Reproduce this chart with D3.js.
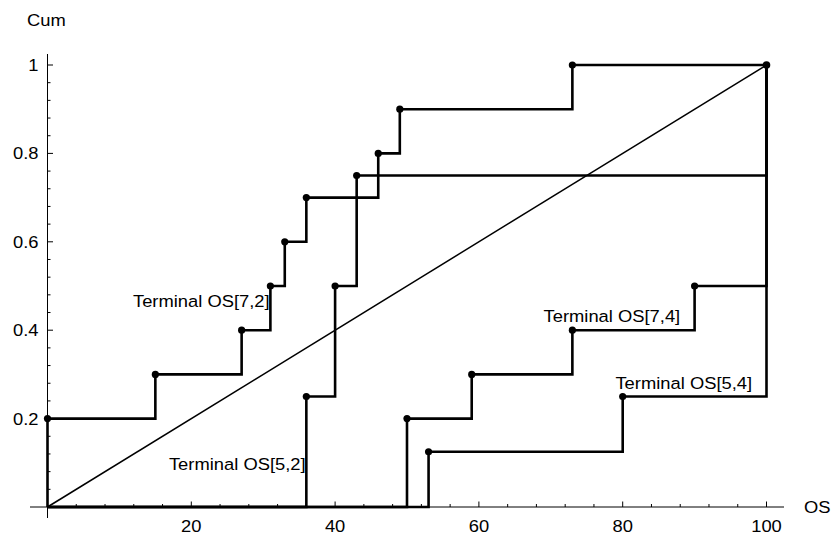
<!DOCTYPE html>
<html>
<head>
<meta charset="utf-8">
<script src="https://cdn.jsdelivr.net/npm/d3@7/dist/d3.min.js"></script>
<style>
  html, body { margin: 0; padding: 0; background: #fff; }
  svg { display: block; }
  text { font-family: "Liberation Sans", Arial, sans-serif; fill: #000; }
</style>
</head>
<body>
<svg id="chart" width="835" height="536"></svg>
<script>
// ---- Data ----
const os72X = [0, 15, 27, 31, 33, 36, 46, 49, 73];
const os72Y = [0.2, 0.3, 0.4, 0.5, 0.6, 0.7, 0.8, 0.9, 1.0];
const os52X = [36, 40, 43];
const os52Y = [0.25, 0.5, 0.75];
const os74X = [50, 59, 73, 90];
const os74Y = [0.2, 0.3, 0.4, 0.5];
const os54X = [53, 80];
const os54Y = [0.125, 0.25];
const diagonalX = [0, 100];
const diagonalY = [0, 1];
const xTickLabels = [20, 40, 60, 80, 100];
const yTickLabels = [0.2, 0.4, 0.6, 0.8, 1];
const seriesNames = ["Terminal OS[7,2]", "Terminal OS[5,2]", "Terminal OS[7,4]", "Terminal OS[5,4]"];
// label anchor (right end of text) in data units
const labelX = [30.9, 35.9, 88.0, 98.0];
const labelY = [0.452, 0.083, 0.418, 0.268];

// ---- Layout ----
const svg = d3.select("#chart");
const x = d3.scaleLinear().domain([0, 100]).range([47.5, 766.5]);
const y = d3.scaleLinear().domain([0, 1]).range([507, 65]);
const SX = 1.08; // horizontal stretch of glyphs in the reference
const FS = 17;

// Axes lines
const axes = svg.append("g").attr("stroke", "#000").attr("stroke-width", 1).attr("fill", "none");
axes.append("line").attr("x1", 30).attr("x2", 784).attr("y1", y(0)).attr("y2", y(0));
axes.append("line").attr("x1", x(0)).attr("x2", x(0)).attr("y1", 518).attr("y2", 54);

// X ticks (minor every 4, major every 20)
const xMinor = d3.range(4, 101, 4).filter(v => v % 20 !== 0);
axes.selectAll(".xminor").data(xMinor).join("line")
  .attr("x1", d => x(d)).attr("x2", d => x(d))
  .attr("y1", y(0)).attr("y2", y(0) - 3);
axes.selectAll(".xmajor").data(xTickLabels).join("line")
  .attr("x1", d => x(d)).attr("x2", d => x(d))
  .attr("y1", y(0)).attr("y2", y(0) - 5.5);
// Y ticks (minor every 0.04, major every 0.2)
const yMinor = d3.range(1, 26).map(i => i * 0.04).filter(v => Math.abs(v / 0.2 - Math.round(v / 0.2)) > 1e-6);
axes.selectAll(".yminor").data(yMinor).join("line")
  .attr("x1", x(0)).attr("x2", x(0) + 3)
  .attr("y1", d => y(d)).attr("y2", d => y(d));
axes.selectAll(".ymajor").data(yTickLabels).join("line")
  .attr("x1", x(0)).attr("x2", x(0) + 5.5)
  .attr("y1", d => y(d)).attr("y2", d => y(d));

function stretchedText(g, px, py, txt, anchor) {
  g.append("text")
    .attr("transform", `translate(${px},${py}) scale(${SX},1)`)
    .attr("text-anchor", anchor)
    .attr("font-size", FS)
    .text(txt);
}

const labels = svg.append("g");
xTickLabels.forEach(v => stretchedText(labels, x(v), 531.5, String(v), "middle"));
yTickLabels.forEach(v => stretchedText(labels, 38.5, y(v) + 6, String(v), "end"));
stretchedText(labels, 27, 25.5, "Cum", "start");
stretchedText(labels, 804, 512.5, "OS", "start");

// Diagonal
const line = d3.line().x(d => x(d[0])).y(d => y(d[1]));
svg.append("path")
  .datum(diagonalX.map((v, i) => [v, diagonalY[i]]))
  .attr("d", line)
  .attr("fill", "none").attr("stroke", "#000").attr("stroke-width", 1.5);

// Step series
const steps = d3.line().x(d => x(d[0])).y(d => y(d[1])).curve(d3.curveStepAfter);
const series = [[os72X, os72Y], [os52X, os52Y], [os74X, os74Y], [os54X, os54Y]];
series.forEach(([xs, ys]) => {
  const pts = xs.map((v, i) => [v, ys[i]]);
  const path = [[0, 0], ...pts, [100, 1]];
  svg.append("path")
    .datum(path)
    .attr("d", steps)
    .attr("fill", "none").attr("stroke", "#000")
    .attr("stroke-width", 2.6)
    .attr("stroke-linejoin", "miter").attr("stroke-linecap", "butt");
});
const dotG = svg.append("g");
series.forEach(([xs, ys]) => {
  dotG.selectAll(null).data(xs.map((v, i) => [v, ys[i]])).join("circle")
    .attr("cx", d => x(d[0])).attr("cy", d => y(d[1])).attr("r", 3.6).attr("fill", "#000");
});
dotG.append("circle").attr("cx", x(100)).attr("cy", y(1)).attr("r", 3.8).attr("fill", "#000");

// Series labels
seriesNames.forEach((name, i) => stretchedText(labels, x(labelX[i]), y(labelY[i]), name, "end"));
</script>
</body>
</html>
